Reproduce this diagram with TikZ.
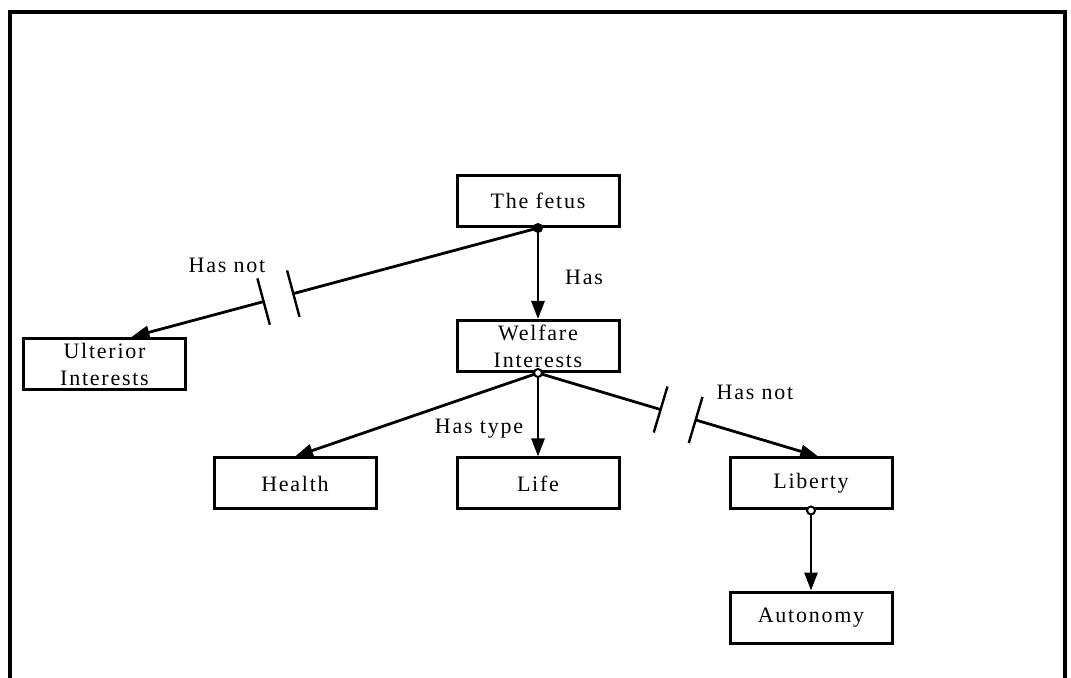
\documentclass[tikz,border=0pt]{standalone}
\usepackage{fontspec}
\setmainfont{Liberation Serif}[LetterSpace=8.0]
\usetikzlibrary{arrows.meta,calc}
\begin{document}
\begin{tikzpicture}[x=0.5pt,y=-0.5pt,
  box/.style={draw,line width=1.5pt,minimum width=81pt,minimum height=25.5pt,inner sep=0pt,
    font=\fontsize{11}{13.5}\selectfont,align=center},
  conn/.style={line width=1.4pt},
  arr/.style={conn,-{Triangle[length=9pt,width=6.5pt]}},
  brk/.style={line width=1.2pt},
  lbl/.style={font=\fontsize{11}{13.5}\selectfont,inner sep=0pt},
  opendot/.style={circle,draw,fill=white,line width=1pt,inner sep=0pt,minimum size=4pt},
  filldot/.style={circle,fill=black,inner sep=0pt,minimum size=5pt}]
\useasboundingbox (0,0) rectangle (1071,678);
% frame
\draw[line width=2.2pt] (10,680) -- (10,12) -- (1065,12) -- (1065,680);
% nodes
\node[box] (fetus) at (538,201) {The fetus};
\node[box] (welfare) at (538,346) {Welfare\\Interests};
\node[box] (ulterior) at (104.5,364) {Ulterior\\Interests};
\node[box] (health) at (295,483.5) {Health};
\node[box] (life) at (538,483.5) {Life};
\node[box] (liberty) at (811,483.5) {Liberty};
\node[box] (autonomy) at (811,617.5) {Autonomy};
% fetus -> welfare
\draw[arr] (fetus.south) -- (welfare.north);
\node[lbl] (has) at (584,277) {Has};
% fetus -> ulterior (has not, broken)
\coordinate (m1) at ($(fetus.south)!0.602!(ulterior.45)$);
\coordinate (m2) at ($(fetus.south)!0.675!(ulterior.45)$);
\draw[conn] (fetus.south) -- (m1);
\draw[arr] (m2) -- (ulterior.45);
\draw[brk] ($(m1)!12pt!90:(ulterior.45)$) -- ($(m1)!12pt!-90:(ulterior.45)$);
\draw[brk] ($(m2)!12pt!90:(ulterior.45)$) -- ($(m2)!12pt!-90:(ulterior.45)$);
\node[lbl] (hasnot1) at (227,265) {Has not};
% welfare -> health, life
\draw[arr] (welfare.south) -- (health.north);
\draw[arr] (welfare.south) -- (life.north);
\node[lbl] (hastype) at (479,429) {Has type};
% welfare -> liberty (has not, broken)
\coordinate (n1) at ($(welfare.south)!0.4375!(liberty.75)$);
\coordinate (n2) at ($(welfare.south)!0.5625!(liberty.75)$);
\draw[conn] (welfare.south) -- (n1);
\draw[arr] (n2) -- (liberty.75);
\draw[brk] ($(n1)!12pt!90:(liberty.75)$) -- ($(n1)!12pt!-90:(liberty.75)$);
\draw[brk] ($(n2)!12pt!90:(liberty.75)$) -- ($(n2)!12pt!-90:(liberty.75)$);
\node[lbl] (hasnot2) at (755,392) {Has not};
% liberty -> autonomy
\draw[arr] (liberty.south) -- (autonomy.north);
% dots
\node[filldot] (d1) at (fetus.south) {};
\node[opendot] (d2) at (welfare.south) {};
\node[opendot] (d3) at (liberty.south) {};
\end{tikzpicture}
\end{document}
